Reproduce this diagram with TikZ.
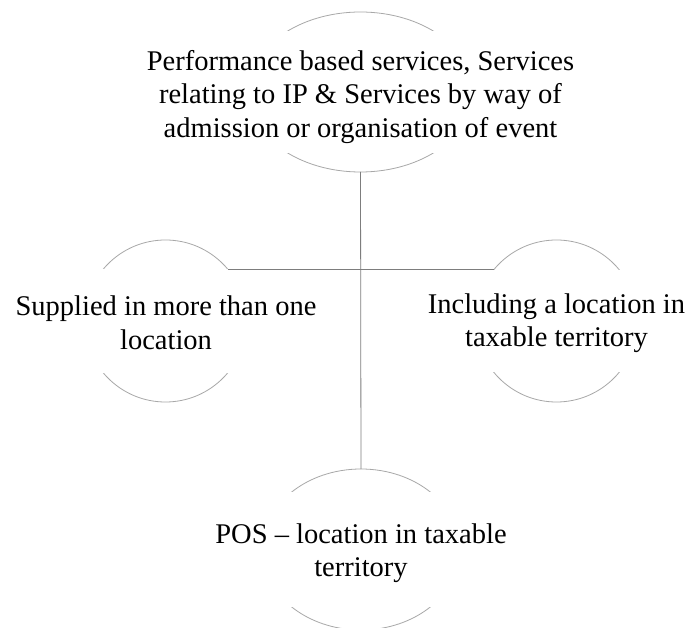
\documentclass[tikz,border=0pt]{standalone}
\usepackage{fontspec}
\setmainfont{Liberation Serif}
\usetikzlibrary{shapes.geometric}
\definecolor{arcgray}{RGB}{168,168,168}
\definecolor{linegray}{RGB}{125,125,125}
\tikzset{
  ring/.style={ellipse, draw=arcgray, line width=0.8pt, inner sep=0pt, outer sep=0pt},
  mask/.style={rectangle, fill=white, draw=none, inner sep=0pt, outer sep=0pt},
  label/.style={align=center, inner sep=0pt, font=\fontsize{28.5}{33.5}\selectfont},
  link/.style={draw=linegray, line width=0.8pt}
}
\begin{document}
\begin{tikzpicture}[x=1pt,y=-1pt]
\useasboundingbox[fill=white] (0,0) rectangle (686,628);
% rings
\node[ring, minimum width=225pt, minimum height=160pt] (top) at (360.5,92) {};
\node[ring, minimum width=162pt, minimum height=162pt] (left) at (165.5,321) {};
\node[ring, minimum width=162pt, minimum height=162pt] (right) at (556.5,321) {};
\node[ring, minimum width=198pt, minimum height=161pt] (bot) at (361,549.5) {};
% masks over the middle band of each ring
\node[mask, minimum width=229pt, minimum height=122pt] (topm) at (360.5,92) {};
\node[mask, minimum width=166pt, minimum height=104pt] (leftm) at (165.5,321) {};
\node[mask, minimum width=166pt, minimum height=102pt] (rightm) at (556.5,321) {};
\node[mask, minimum width=202pt, minimum height=115pt] (botm) at (361,549.5) {};
% connectors
\draw[link] (top.south) -- (bot.north);
\draw[link] (left.40) -- (right.140);
% texts
\node[label] (toptext) at (360.5,97) {Performance based services, Services\\relating to IP \& Services by way of\\admission or organisation of event};
\node[label] (lefttext) at (166,323) {Supplied in more than one\\location};
\node[label] (righttext) at (556.5,323) {Including a location in\\taxable territory};
\node[label] (bottext) at (361,553) {POS -- location in taxable\\territory};
\end{tikzpicture}
\end{document}
